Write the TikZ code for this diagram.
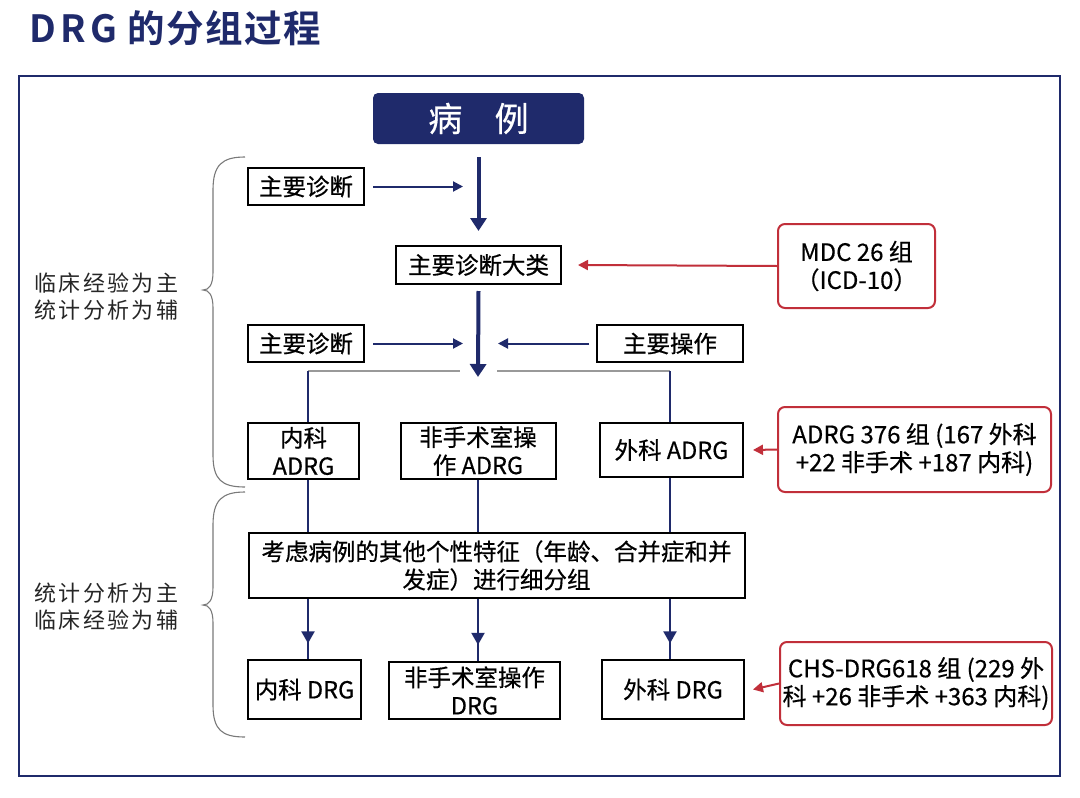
\documentclass[tikz,border=0pt]{standalone}
\usepackage{fontspec}
\setmainfont{Noto Sans CJK SC}[BoldFont={Noto Sans CJK SC Bold}]
\newfontfamily\med{Noto Sans CJK SC}[FakeBold=0.5]
\newfontfamily\spaced{Noto Sans CJK SC}[LetterSpace=11]
\newfontfamily\titlefont{Noto Sans CJK SC Bold}[LetterSpace=4]
\newfontfamily\titlewide{Noto Sans CJK SC Bold}[LetterSpace=12]
\usetikzlibrary{arrows.meta,decorations.markings,calc}
\definecolor{navy}{HTML}{1F2A6B}
\definecolor{darkred}{HTML}{C12F3A}
\definecolor{bracegray}{HTML}{7A7A7A}
\begin{document}
\begin{tikzpicture}[x=1pt,y=-1pt,
  box/.style={draw=black,line width=2pt,inner sep=0pt,align=center,font=\med\fontsize{23.5}{28}\selectfont},
  redbox/.style={draw=darkred,line width=2pt,rounded corners=7pt,inner sep=0pt,align=center,font=\med\fontsize{24}{28}\selectfont},
  thinarrow/.style={navy,line width=2pt,-{Triangle[length=10pt,width=10pt]}},
  thickarrow/.style={navy,line width=4pt,-{Triangle[length=13pt,width=16pt]}},
  redarrow/.style={darkred,line width=2pt,-{Triangle[length=10pt,width=10pt]}},
  navyline/.style={navy,line width=2pt},
  grayline/.style={gray!80,line width=1.6pt},
  bracestyle/.style={bracegray,line width=1.1pt},
  midarrow/.style={navyline,postaction=decorate,decoration={markings,mark=at position 0.74 with {\arrow{Triangle[length=12pt,width=13pt]}}}},
  sidelabel/.style={anchor=west,align=left,inner sep=0pt,font=\spaced\fontsize{22}{27}\selectfont,text=black!85}
]
\useasboundingbox (0,0) rectangle (1080,798);
\fill[white] (0,0) rectangle (1080,798);

% title
\node[anchor=west,inner sep=0pt,text=navy] (title) at (29,28)
  {\fontsize{37.5}{40}\selectfont\titlewide DRG\titlefont\ 的分组过程};

% frame
\draw[navy,line width=2.5pt] (19,76) rectangle (1060,776);

% nodes
\node[fill=navy,rounded corners=5pt,minimum width=211pt,minimum height=51pt,inner sep=0pt,text=white,font=\med\fontsize{34}{40}\selectfont] (case) at (478.5,118.5) {病\hspace{0.95em}例};
\node[box,minimum width=116pt,minimum height=37pt] (d1) at (306,186.5) {主要诊断};
\node[box,minimum width=165pt,minimum height=38pt] (mdc) at (478.5,265) {主要诊断大类};
\node[redbox,minimum width=157pt,minimum height=84pt] (mdcn) at (856.5,266) {MDC 26 组\\（ICD-10）};
\node[box,minimum width=116pt,minimum height=37pt] (d2) at (306,343.5) {主要诊断};
\node[box,minimum width=146pt,minimum height=37pt] (op) at (670,343.5) {主要操作};
\node[box,minimum width=111pt,minimum height=56pt] (nk) at (303.5,451) {内科\\ADRG};
\node[box,minimum width=155pt,minimum height=56pt] (fs) at (478,451) {非手术室操\\作 ADRG};
\node[box,minimum width=143pt,minimum height=54pt] (wk) at (671.5,450) {外科 ADRG};
\node[redbox,minimum width=273pt,minimum height=85pt] (adrg) at (914.5,449.5) {ADRG 376 组 (167 外科\\+22 非手术 +187 内科)};
\node[box,minimum width=496pt,minimum height=65pt] (sub) at (496.5,565.5) {考虑病例的其他个性特征（年龄、合并症和并\\发症）进行细分组};
\node[box,minimum width=113pt,minimum height=59pt] (nkd) at (304.5,689.5) {内科 DRG};
\node[box,minimum width=171pt,minimum height=57pt] (fsd) at (474.5,690.5) {非手术室操作\\DRG};
\node[box,minimum width=142pt,minimum height=59pt] (wkd) at (673,689.5) {外科 DRG};
\node[redbox,minimum width=272pt,minimum height=83pt] (chs) at (916,683.5) {CHS-DRG618 组 (229 外\\科 +26 非手术 +363 内科)};

% side labels
\node[sidelabel] (l1) at (34,296.5) {临床经验为主\\统计分析为辅};
\node[sidelabel] (l2) at (34,606.5) {统计分析为主\\临床经验为辅};

% helper coordinates
\coordinate (t1) at (463,186.5);
\coordinate (j) at (478,377);
\coordinate (t2) at (463,343.5);
\coordinate (t3) at (498,343.5);
\coordinate (jl) at (308,371);
\coordinate (jr) at (670,371);
\coordinate (gl) at (460,371);
\coordinate (gr) at (497,371);

% connectors
\draw[thickarrow] ($(case.south)+(0,13)$) -- ($(mdc.north)+(0,-14)$);
\draw[thinarrow] ($(d1.east)+(8,0)$) -- (t1);
\draw[redarrow] (mdcn.west) -- ($(mdc.east)+(16,0)$);
\draw[thickarrow] ($(mdc.south)+(0,6)$) -- (j);
\draw[thinarrow] ($(d2.east)+(8,0)$) -- (t2);
\draw[thinarrow] ($(op.west)+(-7,0)$) -- (t3);
\draw[grayline] (jl) -- (gl);
\draw[grayline] (gr) -- (jr);
\draw[navyline] (jl) -- (jl |- nk.north);
\draw[navyline] (jr) -- (jr |- wk.north);
\draw[redarrow] (adrg.west) -- ($(wk.east)+(9,0)$);
\draw[navyline] (nk.south -| jl) -- (sub.north -| jl);
\draw[navyline] (fs.south) -- (fs.south |- sub.north);
\draw[navyline] (wk.south -| jr) -- (sub.north -| jr);
\draw[midarrow] (sub.south -| jl) -- (nkd.north -| jl);
\draw[midarrow] (sub.south -| fs.south) -- (fsd.north -| fs.south);
\draw[midarrow] (sub.south -| jr) -- (wkd.north -| jr);
\draw[redarrow] (chs.west) -- ($(wkd.east)+(8,0)$);

% braces
\draw[bracestyle] (245,157) .. controls (222,157) and (213,165) .. (213,190)
  -- (213,272) .. controls (213,285) and (209,290) .. (203,290)
  .. controls (209,290) and (213,295) .. (213,308)
  -- (213,455) .. controls (213,480) and (222,487) .. (245,487);
\draw[bracestyle] (245,492) .. controls (222,492) and (213,500) .. (213,525)
  -- (213,587) .. controls (213,600) and (209,605) .. (203,605)
  .. controls (209,605) and (213,610) .. (213,623)
  -- (213,705) .. controls (213,730) and (222,737) .. (245,737);
\end{tikzpicture}
\end{document}
